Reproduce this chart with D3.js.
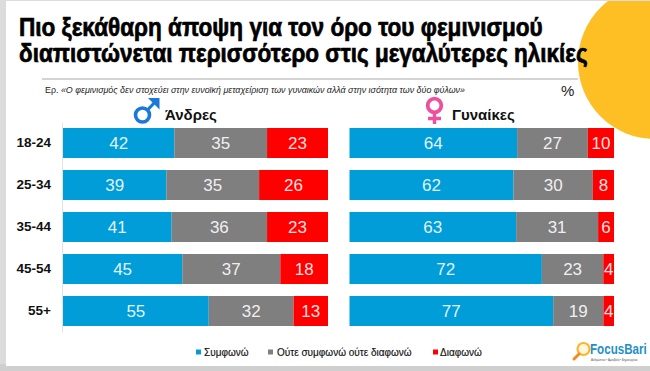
<!DOCTYPE html>
<html>
<head>
<meta charset="utf-8">
<script src="https://d3js.org/d3.v7.min.js"></script>
<title>FocusBari</title>
<style>
  html, body { margin: 0; padding: 0; background: #dcdcdc; }
  svg { display: block; font-family: "Liberation Sans", sans-serif; }
</style>
</head>
<body>
<svg id="chart" width="650" height="371"></svg>
<script>
// data
var ages = ["18-24", "25-34", "35-44", "45-54", "55+"];
var keys = ["agree", "neither", "disagree"];
var legendLabels = ["Συμφωνώ", "Ούτε συμφωνώ ούτε διαφωνώ", "Διαφωνώ"];
var colors = ["#009dd9", "#7f7f7f", "#ff0000"];

var menAgree = [42, 39, 41, 45, 55];
var menNeither = [35, 35, 36, 37, 32];
var menDisagree = [23, 26, 23, 18, 13];

var womenAgree = [64, 62, 63, 72, 77];
var womenNeither = [27, 30, 31, 23, 19];
var womenDisagree = [10, 8, 6, 4, 4];

var titleLines = ["Πιο ξεκάθαρη άποψη για τον όρο του φεμινισμού", "διαπιστώνεται περισσότερο στις μεγαλύτερες ηλικίες"];
var titleWidths = [524, 569];

var svg = d3.select("#chart");

// slide background + yellow corner
svg.append("rect").attr("x", 0).attr("y", 364).attr("width", 650).attr("height", 7).attr("fill", "#cfcfcf");
svg.append("rect").attr("x", 6).attr("y", 1).attr("width", 644).attr("height", 365).attr("fill", "#fff");
svg.append("clipPath").attr("id", "slide").append("rect").attr("x", 6).attr("y", 1).attr("width", 644).attr("height", 365);
svg.append("circle").attr("cx", 655).attr("cy", 62).attr("r", 77).attr("fill", "#fdbf24").attr("clip-path", "url(#slide)");

// title, squeezed sideways to the condensed look of the original
svg.selectAll(".title").data(titleLines).enter().append("text")
  .attr("class", "title")
  .attr("font-size", 26)
  .attr("font-weight", 700)
  .attr("stroke", "#000")
  .attr("stroke-width", 0.7)
  .attr("fill", "#000")
  .text(function(d) { return d; })
  .attr("transform", function(d, i) {
    var k = titleWidths[i] / this.getComputedTextLength();
    return "translate(19," + (36 + i * 26) + ") scale(" + k + ",1)";
  });

svg.append("line").attr("x1", 42).attr("x2", 578).attr("y1", 79).attr("y2", 79)
  .attr("stroke", "#d4d4d4").attr("stroke-width", 2);

var sub = svg.append("text").attr("x", 45).attr("y", 92.5).attr("font-size", 8.6).attr("fill", "#222")
  .attr("textLength", 420).attr("lengthAdjust", "spacingAndGlyphs");
sub.append("tspan").text("Ερ. ");
sub.append("tspan").attr("font-style", "italic")
  .text("«Ο φεμινισμός δεν στοχεύει στην ευνοϊκή μεταχείριση των γυναικών αλλά στην ισότητα των δύο φύλων»");

svg.append("text").attr("x", 561).attr("y", 96).attr("font-size", 15).attr("fill", "#222").text("%");

// scales
var y = d3.scaleBand().domain(ages).range([122, 332]).paddingInner(12 / 42).paddingOuter(6 / 42);
var stack = d3.stack().keys(keys).offset(d3.stackOffsetExpand);

function rows(a, b, c) {
  return ages.map(function(age, i) { return { age: age, agree: a[i], neither: b[i], disagree: c[i] }; });
}

function drawPanel(data, x0, x1) {
  var x = d3.scaleLinear().domain([0, 1]).range([x0, x1]);
  var series = stack(data);
  var groups = svg.append("g").selectAll("g").data(series).enter().append("g")
    .attr("fill", function(d, i) { return colors[i]; });
  groups.selectAll("rect").data(function(d) { return d; }).enter().append("rect")
    .attr("x", function(d) { return x(d[0]); })
    .attr("y", function(d) { return y(d.data.age); })
    .attr("width", function(d) { return x(d[1]) - x(d[0]); })
    .attr("height", y.bandwidth());
  groups.each(function(s) {
    d3.select(this).selectAll("text").data(s).enter().append("text")
      .attr("x", function(d) { return (x(d[0]) + x(d[1])) / 2; })
      .attr("y", function(d) { return y(d.data.age) + y.bandwidth() / 2 + 6; })
      .attr("text-anchor", "middle")
      .attr("font-size", 17)
      .attr("fill", "#fff")
      .attr("fill-opacity", 0.9)
      .text(function(d) { return d.data[s.key]; });
  });
}

drawPanel(rows(menAgree, menNeither, menDisagree), 63, 328);
drawPanel(rows(womenAgree, womenNeither, womenDisagree), 349.5, 614);

// age axis
var axis = svg.append("g").attr("transform", "translate(62,0)").call(d3.axisLeft(y).tickSize(0).tickPadding(11));
axis.select(".domain").attr("stroke", "#e4e4e4");
axis.selectAll("text").attr("font-family", '"Liberation Sans", sans-serif').attr("font-size", 13.5)
  .attr("font-weight", 700).attr("fill", "#111");

// gender headers
var male = svg.append("g").attr("fill", "none").attr("stroke", "#1a78d6");
male.append("circle").attr("cx", 142.5).attr("cy", 115).attr("r", 7).attr("stroke-width", 3.6);
male.append("path").attr("d", "M147.5 110 L156 101").attr("stroke-width", 3.2);
male.append("path").attr("d", "M148 98 H159.5 V109.5 Z").attr("fill", "#1a78d6").attr("stroke", "none");

var female = svg.append("g").attr("fill", "none").attr("stroke", "#ee4f9f");
female.append("circle").attr("cx", 434.5).attr("cy", 105.5).attr("r", 6.8).attr("stroke-width", 3.8);
female.append("path").attr("d", "M434.5 112 V124 M428 118.5 H441").attr("stroke-width", 3.4);

svg.append("text").attr("x", 165).attr("y", 120).attr("font-size", 15).attr("font-weight", 700).attr("fill", "#111").text("Άνδρες");
svg.append("text").attr("x", 452).attr("y", 120).attr("font-size", 15).attr("font-weight", 700).attr("fill", "#111").text("Γυναίκες");

// legend
var legendX = [196, 268, 433];
var legend = svg.append("g").selectAll("g").data(legendLabels).enter().append("g")
  .attr("transform", function(d, i) { return "translate(" + legendX[i] + ",352)"; });
legend.append("rect").attr("x", 0).attr("y", -2.5).attr("width", 5).attr("height", 5)
  .attr("fill", function(d, i) { return colors[i]; });
legend.append("text").attr("x", function(d, i) { return i == 0 ? 8 : i == 1 ? 9 : 7; }).attr("y", 3.5)
  .attr("font-size", 10).attr("fill", "#111").attr("stroke", "#111").attr("stroke-width", 0.15)
  .text(function(d) { return d; });

// logo
var logo = svg.append("g");
logo.append("circle").attr("cx", 583.5).attr("cy", 349).attr("r", 6).attr("fill", "#fff6dc").attr("stroke", "#fbb72c").attr("stroke-width", 2.2);
logo.append("path").attr("d", "M579 354 L574 359").attr("stroke", "#ef8d22").attr("stroke-width", 3).attr("stroke-linecap", "round");
logo.append("text").attr("transform", "translate(590,354) scale(0.83,1)").attr("font-size", 14).attr("font-weight", 700)
  .attr("fill", "#1f8fc9").text("FocusBari");
logo.append("text").attr("transform", "translate(591,360.5) scale(0.8,1)").attr("font-size", 3.6).attr("fill", "#555")
  .text("Ανθρώπινα • Αμοιβαία • Δημιουργικά");
</script>
</body>
</html>
